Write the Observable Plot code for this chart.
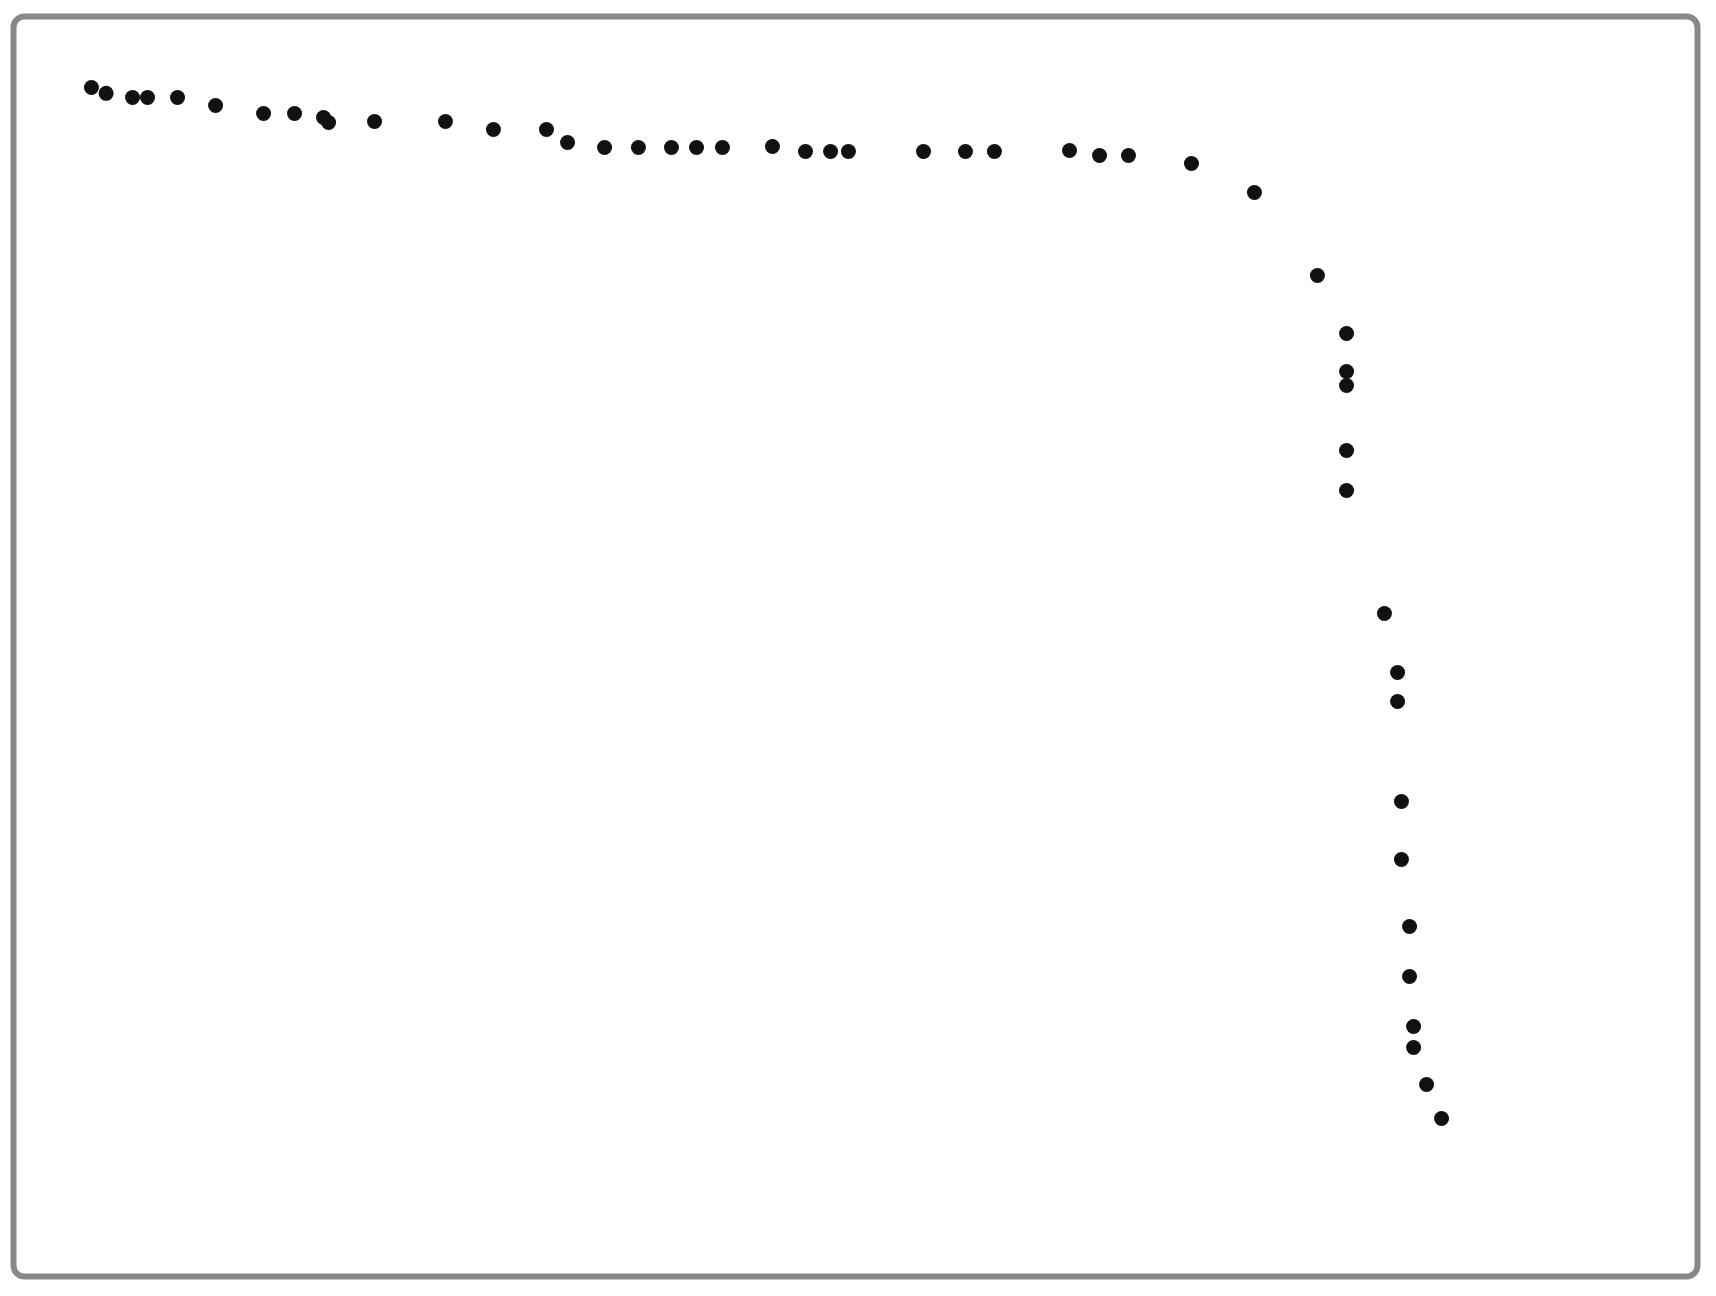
<!DOCTYPE html>
<html>
<head>
<meta charset="utf-8">
<script src="https://cdn.jsdelivr.net/npm/d3@7"></script>
<script src="https://cdn.jsdelivr.net/npm/@observablehq/plot@0.6"></script>
<style>
  html, body { margin: 0; padding: 0; background: #fff; }
  #chart { width: 1716px; height: 1296px; }
</style>
</head>
<body>
<div id="chart"></div>
<script>
// Values (no axes shown; unit-less 0–100 scale)
const xValues = [4.63, 5.50, 7.07, 7.96, 9.74, 12.0, 14.85, 16.69, 18.41, 18.71,
  21.44, 25.65, 28.50, 31.65, 32.90, 35.10, 37.11, 39.07, 40.56, 42.10,
  45.07, 47.03, 48.52, 49.58, 54.04, 56.53, 58.25, 62.71, 64.49, 66.21,
  69.95, 73.69, 77.43, 79.16, 79.16, 79.16, 79.16, 79.16, 81.41, 82.19,
  82.19, 82.42, 82.42, 82.90, 82.90, 83.14, 83.14, 83.91, 84.80];
const yValues = [94.37, 93.90, 93.57, 93.57, 93.57, 92.94, 92.30, 92.30, 91.98, 91.59,
  91.67, 91.67, 91.03, 91.03, 90.0, 89.60, 89.60, 89.60, 89.60, 89.60,
  89.68, 89.29, 89.29, 89.29, 89.29, 89.29, 89.29, 89.37, 88.97, 88.97,
  88.33, 86.03, 79.44, 74.84, 71.83, 70.71, 65.56, 62.38, 52.62, 47.94,
  45.63, 37.70, 33.10, 27.78, 23.81, 19.84, 18.17, 15.24, 12.54];

const data = xValues.map((x, i) => ({x, y: yValues[i]}));

const chart = Plot.plot({
  width: 1716,
  height: 1296,
  marginLeft: 13,
  marginRight: 19,
  marginTop: 16,
  marginBottom: 20,
  x: {domain: [0, 100], axis: null},
  y: {domain: [0, 100], axis: null},
  marks: [
    Plot.frame({stroke: "#888", strokeWidth: 6, rx: 11, ry: 11}),
    Plot.dot(data, {x: "x", y: "y", r: 7.5, fill: "#111", stroke: "none"})
  ]
});
document.getElementById("chart").append(chart);
</script>
</body>
</html>
